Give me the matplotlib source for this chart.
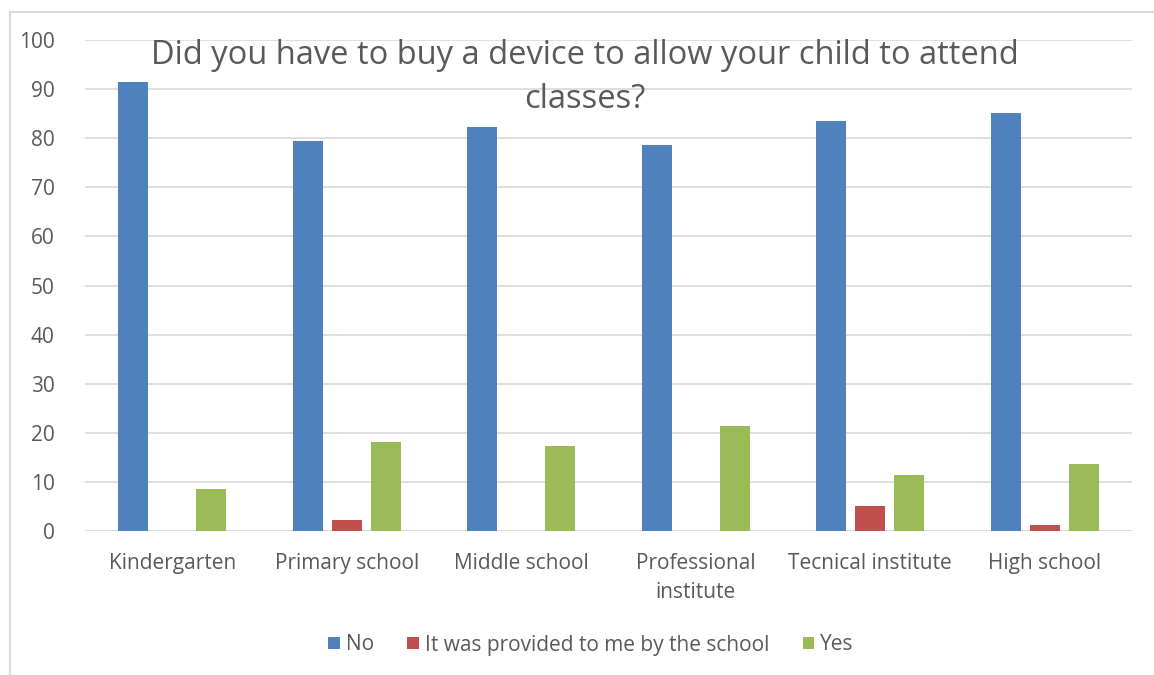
import matplotlib
matplotlib.use("Agg")
import matplotlib.pyplot as plt
from matplotlib.lines import Line2D
import numpy as np

categories = ["Kindergarten", "Primary school", "Middle school", "Professional\ninstitute",
              "Tecnical institute", "High school"]
series_names = ["No", "It was provided to me by the school", "Yes"]
no_vals = [91.4, 79.5, 82.3, 78.6, 83.5, 85.1]
provided_vals = [0, 2.3, 0, 0, 5.1, 1.2]
yes_vals = [8.6, 18.2, 17.4, 21.4, 11.4, 13.7]
colors = ["#4F81BD", "#C0504D", "#9BBB59"]
title_lines = ["Did you have to buy a device to allow your child to attend", "classes?"]

plt.rcParams['font.family'] = ['Open Sans', 'DejaVu Sans']
W, H = 1154, 675
fig = plt.figure(figsize=(W/100, H/100), dpi=100)
ax = fig.add_axes([85/W, 1-531/H, (1132-85)/W, (531-40)/H])

x = np.arange(len(categories))
bw = 0.172
off = 0.224
for i, (vals, c, name) in enumerate(zip([no_vals, provided_vals, yes_vals], colors, series_names)):
    ax.bar(x + (i-1)*off, vals, width=bw, color=c, label=name, zorder=3)

ax.set_xlim(-0.5, len(categories)-0.5)
ax.set_ylim(0, 100)
ax.set_yticks(range(0, 101, 10))
ax.yaxis.grid(True, color="#D9D9D9", linewidth=1.2, zorder=0)
for s in ax.spines.values():
    s.set_visible(False)
ax.axhline(0, color="#D9D9D9", linewidth=1.2, zorder=2)
ax.tick_params(axis='both', length=0, labelsize=15, colors="#595959")
ax.tick_params(axis='y', pad=22)
ax.tick_params(axis='x', pad=16)
ax.set_xticks(x)
ax.set_xticklabels(categories, linespacing=1.5)

fig.text(585/W, 1-55/H, title_lines[0], ha='center', va='center', fontsize=23.5, color="#595959")
fig.text(585/W, 1-100/H, title_lines[1], ha='center', va='center', fontsize=23.5, color="#595959")

leg = fig.legend(loc='center', bbox_to_anchor=(591/W, 1-645/H), ncol=3, frameon=False,
                 fontsize=15, handlelength=0.55, handleheight=0.55, handletextpad=0.3,
                 columnspacing=1.6)
for t in leg.get_texts():
    t.set_color("#595959")

# chart frame: only top and left edges are visible in the reference
fig.add_artist(Line2D([10/W, 1.0], [1-12/H, 1-12/H], transform=fig.transFigure,
                      color="#D9D9D9", linewidth=1.5))
fig.add_artist(Line2D([10/W, 10/W], [0, 1-12/H], transform=fig.transFigure,
                      color="#D9D9D9", linewidth=1.5))

fig.savefig("out.png", dpi=100, facecolor="white")
